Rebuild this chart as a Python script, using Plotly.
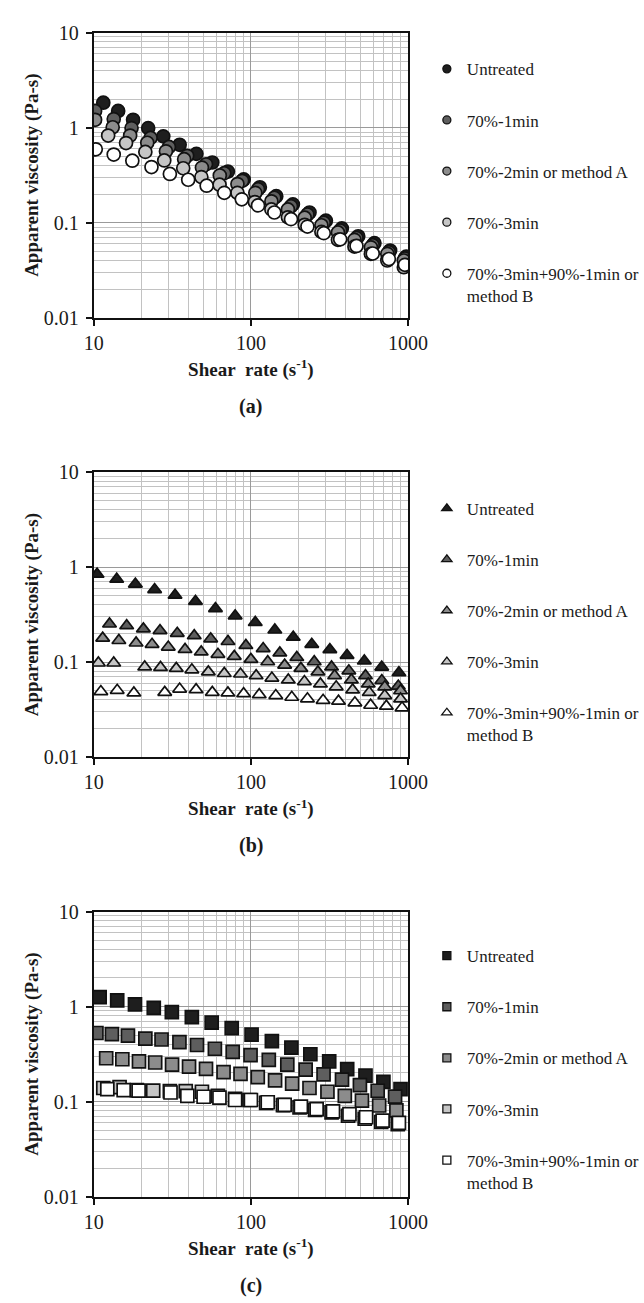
import plotly.graph_objects as go

W, H = 644, 1303

# ---------------- data ----------------
series_names = ["Untreated", "70%-1min", "70%-2min or method A", "70%-3min",
                "70%-3min+90%-1min or<br>method B"]
fill_colors = ["#1e1e1e", "#5e5e5e", "#8c8c8c", "#c6c6c6", "#ffffff"]

# panel (a) - circles
a_x_untreated = [11.5, 14.3, 17.8, 22.2, 27.7, 35.2, 45, 56.8, 71.4, 90, 114, 145, 185, 236, 300, 379, 482, 611, 769, 973]
a_y_untreated = [1.83, 1.50, 1.21, 0.99, 0.81, 0.66, 0.53, 0.43, 0.345, 0.285, 0.236, 0.19, 0.156, 0.128, 0.105, 0.087, 0.072, 0.061, 0.051, 0.044]
a_x_1min = [10.2, 13.4, 17.4, 23.0, 30.1, 39.3, 51.8, 67.7, 88.0, 111, 141, 180, 229, 291, 370, 470, 596, 755, 955]
a_y_1min = [1.50, 1.23, 0.99, 0.78, 0.627, 0.506, 0.411, 0.332, 0.276, 0.225, 0.183, 0.149, 0.122, 0.100, 0.083, 0.069, 0.058, 0.049, 0.042]
a_x_2min = [10.2, 13.2, 17.05, 21.9, 28.8, 37.6, 48.8, 63.4, 82.1, 106.7, 135, 172, 220, 281, 358, 456, 580, 738, 940]
a_y_2min = [1.21, 1.01, 0.826, 0.694, 0.564, 0.466, 0.38, 0.314, 0.255, 0.206, 0.168, 0.138, 0.113, 0.094, 0.079, 0.066, 0.055, 0.047, 0.040]
a_x_3min = [12.35, 16.05, 21.3, 28.1, 37.1, 48.4, 63.2, 82.1, 106, 135, 172, 220, 281, 358, 456, 580, 738, 940]
a_y_3min = [0.826, 0.689, 0.556, 0.452, 0.374, 0.302, 0.251, 0.206, 0.165, 0.138, 0.114, 0.095, 0.08, 0.066, 0.056, 0.047, 0.040, 0.034]
a_x_B = [10.3, 13.4, 17.6, 23.3, 30.5, 39.9, 52.3, 67.7, 87.5, 111, 141, 180, 229, 291, 370, 470, 596, 755, 955]
a_y_B = [0.592, 0.521, 0.449, 0.385, 0.326, 0.283, 0.245, 0.206, 0.176, 0.152, 0.128, 0.109, 0.091, 0.0776, 0.0668, 0.0569, 0.0474, 0.0415, 0.036]

# panel (b) - triangles
b_x_untreated = [10.5, 14.0, 18.4, 24.4, 32.9, 44.4, 59.5, 79.4, 106.6, 142, 186, 244, 318, 409, 527, 680, 875]
b_y_untreated = [0.842, 0.747, 0.663, 0.580, 0.507, 0.436, 0.366, 0.307, 0.262, 0.218, 0.183, 0.154, 0.1355, 0.118, 0.103, 0.0888, 0.0775]
b_x_1min = [12.6, 16.2, 20.7, 26.4, 34.0, 43.6, 55.5, 71.5, 92.9, 119.7, 152.8, 196, 253, 326, 420, 536, 681, 867]
b_y_1min = [0.252, 0.242, 0.224, 0.215, 0.201, 0.19, 0.176, 0.165, 0.150, 0.139, 0.125, 0.112, 0.101, 0.089, 0.081, 0.072, 0.064, 0.056]
b_x_2min = [11.4, 14.45, 18.6, 23.5, 29.8, 38.1, 48.3, 61.7, 78.4, 100, 128, 164, 208, 267, 341, 436, 558, 711, 896]
b_y_2min = [0.179, 0.169, 0.159, 0.154, 0.144, 0.136, 0.128, 0.121, 0.115, 0.107, 0.101, 0.093, 0.086, 0.079, 0.072, 0.065, 0.059, 0.055, 0.050]
b_x_3min = [10.7, 13.4, 21.1, 26.6, 33.5, 42.1, 53.6, 67.7, 85.9, 108, 136, 173, 219, 277, 349, 444, 566, 711, 896]
b_y_3min = [0.098, 0.098, 0.089, 0.088, 0.086, 0.083, 0.079, 0.076, 0.075, 0.072, 0.068, 0.065, 0.0625, 0.059, 0.055, 0.051, 0.048, 0.0445, 0.041]
b_x_B = [11.1, 14.1, 18.0, 28.3, 35.2, 44.8, 56.8, 71.4, 89.9, 113, 144, 182, 229, 288, 361, 459, 578, 728, 916]
b_y_B = [0.049, 0.0505, 0.0474, 0.0481, 0.0521, 0.0513, 0.0481, 0.0474, 0.0466, 0.0455, 0.0445, 0.0427, 0.0411, 0.0397, 0.0388, 0.0373, 0.0352, 0.0344, 0.0331]

# panel (c) - squares
c_x_untreated = [10.9, 14.1, 18.3, 24.1, 31.4, 42.1, 56.3, 75.5, 101, 136, 181, 239, 315, 410, 536, 697, 896]
c_y_untreated = [1.259, 1.161, 1.056, 0.970, 0.873, 0.774, 0.679, 0.593, 0.506, 0.4325, 0.369, 0.315, 0.265, 0.220, 0.188, 0.161, 0.135]
c_x_1min = [10.4, 13.05, 16.5, 21.3, 27.0, 35.1, 45.4, 59.0, 76.6, 99.5, 130, 170.5, 223, 290, 380, 494, 641, 827]
c_y_1min = [0.527, 0.514, 0.494, 0.460, 0.450, 0.423, 0.394, 0.360, 0.333, 0.308, 0.275, 0.245, 0.217, 0.193, 0.170, 0.149, 0.130, 0.113]
c_x_2min = [12.0, 15.2, 19.4, 24.6, 31.5, 40.4, 51.8, 67.0, 85.9, 110.6, 142.5, 183, 236, 307, 396, 509, 655, 843]
c_y_2min = [0.286, 0.279, 0.265, 0.258, 0.245, 0.2335, 0.2205, 0.204, 0.196, 0.181, 0.167, 0.1545, 0.139, 0.127, 0.1146, 0.1023, 0.091, 0.0807]
c_x_3min = [11.5, 14.6, 18.8, 23.9, 30.5, 38.5, 48.8, 61.7, 79.4, 98, 125, 160, 204, 256, 326, 415, 530, 675, 860]
c_y_3min = [0.139, 0.142, 0.132, 0.1306, 0.129, 0.129, 0.127, 0.1146, 0.1067, 0.104, 0.097, 0.092, 0.087, 0.082, 0.077, 0.071, 0.066, 0.061, 0.058]
c_x_B = [12.2, 15.5, 19.3, 30.8, 39.4, 50.0, 63.1, 79.4, 100, 128, 164, 208, 262, 333, 424, 541, 689, 875]
c_y_B = [0.135, 0.132, 0.1306, 0.1247, 0.115, 0.1125, 0.1099, 0.104, 0.104, 0.0984, 0.0924, 0.0887, 0.0834, 0.0789, 0.074, 0.0684, 0.0632, 0.0598]

x_ticks = [10, 100, 1000]
x_tick_text = ["10", "100", "1000"]
y_ticks = [0.01, 0.1, 1, 10]
y_tick_text = ["0.01", "0.1", "1", "10"]
x_minor = [20, 30, 40, 50, 60, 70, 80, 90, 200, 300, 400, 500, 600, 700, 800, 900]
y_minor = [0.02, 0.03, 0.04, 0.05, 0.06, 0.07, 0.08, 0.09,
           0.2, 0.3, 0.4, 0.5, 0.6, 0.7, 0.8, 0.9,
           2, 3, 4, 5, 6, 7, 8, 9]
panel_labels = ["(a)", "(b)", "(c)"]

panels = [
    ("circle", 13, 8, [(a_x_untreated, a_y_untreated), (a_x_1min, a_y_1min), (a_x_2min, a_y_2min),
                       (a_x_3min, a_y_3min), (a_x_B, a_y_B)]),
    ("triangle-up", 12, 9, [(b_x_untreated, b_y_untreated), (b_x_1min, b_y_1min), (b_x_2min, b_y_2min),
                            (b_x_3min, b_y_3min), (b_x_B, b_y_B)]),
    ("square", 13, 8, [(c_x_untreated, c_y_untreated), (c_x_1min, c_y_1min), (c_x_2min, c_y_2min),
                       (c_x_3min, c_y_3min), (c_x_B, c_y_B)]),
]

# ---------------- layout geometry (pixels) ----------------
FONT = "Liberation Serif, Times New Roman, serif"
plot_left, plot_right = 89, 423
plot_tops = [22, 469, 916]
plot_h = 290
legend_first = [63, 510, 965]


def fy(p):
    return 1 - p / H


fig = go.Figure()
layout = dict(
    width=W, height=H, margin=dict(l=0, r=0, t=0, b=0),
    paper_bgcolor="white", plot_bgcolor="white",
    font=dict(family=FONT, size=17, color="#1a1a1a"),
    showlegend=True,
)

annotations = []
for i, (sym, msize, lsize, data) in enumerate(panels):
    sfx = "" if i == 0 else str(i + 1)
    xa, ya = "x" + sfx, "y" + sfx
    leg = "legend" + sfx
    for k, (xs, ys) in enumerate(data):
        fig.add_trace(go.Scatter(
            x=xs, y=ys, mode="markers", xaxis=xa, yaxis=ya, showlegend=False,
            marker=dict(symbol=sym, size=msize, color=fill_colors[k],
                        line=dict(color="#111111", width=1.7)),
            hoverinfo="x+y", name=series_names[k].replace("<br>", " ")))
    for k in range(5):
        fig.add_trace(go.Scatter(
            x=[None], y=[None], mode="markers", xaxis=xa, yaxis=ya,
            name=series_names[k], legend=leg, legendgroup=f"g{i}{k}",
            marker=dict(symbol=sym, size=lsize, color=fill_colors[k],
                        line=dict(color="#111111", width=1.3))))
    top = plot_tops[i]
    bot = top + plot_h
    axis_common = dict(type="log", showline=True, linecolor="#111111", linewidth=2,
                       mirror=True, ticks="outside", ticklen=6, tickwidth=1.5, tickcolor="#111111",
                       showgrid=True, gridcolor="#9a9a9a", gridwidth=1.4, zeroline=False,
                       tickfont=dict(family=FONT, size=20, color="#1a1a1a"))
    layout["xaxis" + sfx] = dict(
        axis_common, domain=[plot_left / W, plot_right / W], anchor=ya,
        range=[1, 3], tickmode="array", tickvals=x_ticks, ticktext=x_tick_text,
        minor=dict(tickmode="array", tickvals=x_minor, showgrid=True,
                   gridcolor="#c2c2c2", gridwidth=1.4, ticks=""),
        title=dict(text="Shear\u00a0 rate (s<sup>-1</sup>)", standoff=10,
                   font=dict(family=FONT, size=19, color="#1a1a1a", weight="bold")))
    layout["yaxis" + sfx] = dict(
        axis_common, domain=[fy(bot), fy(top)], anchor=xa,
        range=[-2, 1], tickmode="array", tickvals=y_ticks, ticktext=y_tick_text,
        ticklabelstandoff=3,
        minor=dict(tickmode="array", tickvals=y_minor, showgrid=True,
                   gridcolor="#c2c2c2", gridwidth=1.4, ticks=""),
        title=dict(text="Apparent viscosity (Pa-s)", standoff=0,
                   font=dict(family=FONT, size=19, color="#1a1a1a", weight="bold")))
    layout[leg] = dict(
        x=443 / W, xanchor="left", y=fy(legend_first[i] - 22), yanchor="top",
        bgcolor="rgba(0,0,0,0)", borderwidth=0, tracegroupgap=26, valign="top",
        font=dict(family=FONT, size=17, color="#1a1a1a"))
    annotations.append(dict(
        text="<b>" + panel_labels[i] + "</b>", xref="paper", yref="paper",
        x=(plot_left + plot_right) / 2 / W, y=fy(bot + 90), xanchor="center", yanchor="middle",
        showarrow=False, font=dict(family=FONT, size=20, color="#1a1a1a")))

layout["annotations"] = annotations
fig.update_layout(**layout)
fig.write_html("out.html")
